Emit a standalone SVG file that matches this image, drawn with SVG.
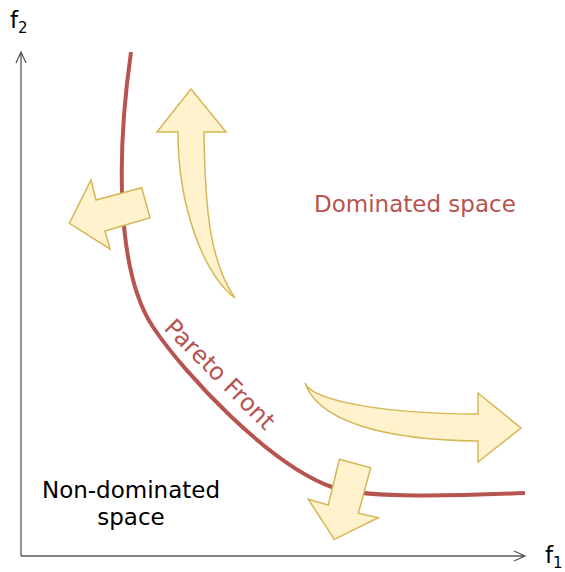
<svg xmlns="http://www.w3.org/2000/svg" width="565" height="572" viewBox="0 0 565 572">
<style>
.axis{fill:none;stroke:#595959;stroke-width:1.3}
.front{fill:none;stroke:#b85450;stroke-width:4}
.arr{fill:#fff2cc;stroke:#d6b656;stroke-width:1.5;stroke-linejoin:miter}
text{font-family:"DejaVu Sans",Verdana,sans-serif}
.red{fill:#b85450;font-size:23px}
.blk{fill:#000;font-size:23px}
</style>
<rect width="565" height="572" fill="#fff"/>
<g id="axes">
<path class="axis" d="M21,556 L21,53 M16,63 L21,52 L26,63"/>
<path class="axis" d="M21,556 L524,556 M514,551 L525,556 L514,561"/>
<text class="blk" x="10" y="28">f<tspan font-size="15" dy="5">2</tspan></text>
<text class="blk" x="545" y="563">f<tspan font-size="15" dy="5">1</tspan></text>
</g>
<g id="pareto-front">
<path class="front" d="M131,52 C117,150 115,270 153,327 C185,375 270,465 332,487 C360,497 430,497 525,493"/>
<text class="red" style="font-size:24px" transform="translate(163,329) rotate(45)">Pareto Front</text>
</g>
<g id="labels">
<text class="red" x="314" y="212">Dominated space</text>
<text class="blk" x="131" y="498" text-anchor="middle">Non-dominated</text>
<text class="blk" x="131" y="525" text-anchor="middle">space</text>
</g>
<g id="arrow-up">
<path class="arr" d="M191,89 L226,132 L204,132 C205,210 210,262 235,298 C205,275 178,210 178,132 L157,132 Z"/>
</g>
<g id="arrow-left">
<path class="arr" d="M69.3,223.3 L91,180 L96,200 L141.7,187.7 L150,217.7 L105,231 L110,249 Z"/>
</g>
<g id="arrow-right">
<path class="arr" d="M305,383 C312,400 380,414 478,414 L478,393 L521,428 L478,462 L478,441 C380,440 318,420 305,383 Z"/>
</g>
<g id="arrow-down">
<path class="arr" d="M339.3,459.3 L370.7,467.7 L358.3,513.3 L378.3,517.7 L334.3,539.3 L308.3,499.3 L328.3,505 Z"/>
</g>
</svg>
